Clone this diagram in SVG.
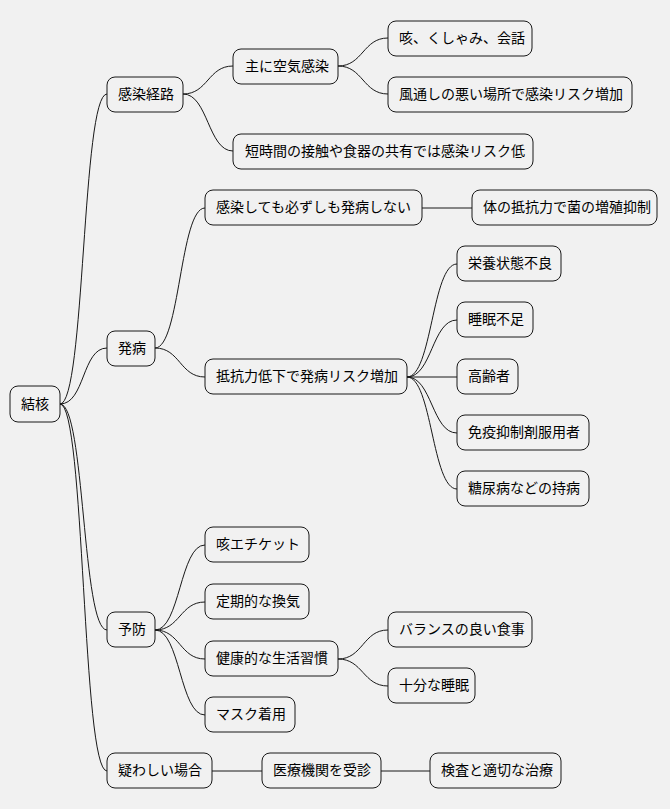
<svg xmlns="http://www.w3.org/2000/svg" width="670" height="809" viewBox="0 0 670 809">
<style>
rect{fill:#f1f1f1;stroke:#181818;stroke-width:1}
text{font-family:"Noto Sans CJK JP","Noto Sans",sans-serif;font-size:14px;fill:#000}
#connectors path{fill:none;stroke:#181818;stroke-width:1}
</style>
<rect width="670" height="809" fill="#fff" style="stroke:none"/>
<g id="connectors">
<path d="M60 404 C85 404 82 94 107 94"/>
<path d="M60 404 C85 404 82 348 107 348"/>
<path d="M60 404 C85 404 82 630 107 630"/>
<path d="M60 404 C85 404 82 771 107 771"/>
<path d="M183 94 C208 94 208 66 233 66"/>
<path d="M183 94 C208 94 208 151 233 151"/>
<path d="M338 66 C363 66 363 38 388 38"/>
<path d="M338 66 C363 66 363 94 388 94"/>
<path d="M155 348 C180 348 180 208 205 208"/>
<path d="M155 348 C180 348 180 377 205 377"/>
<path d="M422 208 L472 208"/>
<path d="M407 377 C432 377 432 264 457 264"/>
<path d="M407 377 C432 377 432 320 457 320"/>
<path d="M407 377 L457 377"/>
<path d="M407 377 C432 377 432 433 457 433"/>
<path d="M407 377 C432 377 432 489 457 489"/>
<path d="M155 630 C180 630 180 545 205 545"/>
<path d="M155 630 C180 630 180 602 205 602"/>
<path d="M155 630 C180 630 180 659 205 659"/>
<path d="M155 630 C180 630 180 715 205 715"/>
<path d="M338 659 C363 659 363 630 388 630"/>
<path d="M338 659 C363 659 363 686 388 686"/>
<path d="M212 771 L262 771"/>
<path d="M381 771 L430 771"/>
</g>
<g id="n0"><rect x="10" y="386" width="50" height="36" rx="8"/><text x="21" y="409">結核</text></g>
<g id="n1"><rect x="107" y="77" width="76" height="35" rx="8"/><text x="118" y="99">感染経路</text></g>
<g id="n2"><rect x="233" y="49" width="105" height="35" rx="8"/><text x="245" y="71">主に空気感染</text></g>
<g id="n3"><rect x="388" y="21" width="144" height="35" rx="8"/><text x="399" y="43">咳、くしゃみ、会話</text></g>
<g id="n4"><rect x="388" y="77" width="244" height="35" rx="8"/><text x="399" y="99">風通しの悪い場所で感染リスク増加</text></g>
<g id="n5"><rect x="233" y="134" width="300" height="35" rx="8"/><text x="245" y="156">短時間の接触や食器の共有では感染リスク低</text></g>
<g id="n6"><rect x="107" y="331" width="48" height="35" rx="8"/><text x="118" y="353">発病</text></g>
<g id="n7"><rect x="205" y="190" width="217" height="35" rx="8"/><text x="216" y="212">感染しても必ずしも発病しない</text></g>
<g id="n8"><rect x="472" y="190" width="185" height="35" rx="8"/><text x="483" y="212">体の抵抗力で菌の増殖抑制</text></g>
<g id="n9"><rect x="205" y="359" width="202" height="35" rx="8"/><text x="216" y="381">抵抗力低下で発病リスク増加</text></g>
<g id="n10"><rect x="457" y="246" width="104" height="35" rx="8"/><text x="468" y="268">栄養状態不良</text></g>
<g id="n11"><rect x="457" y="302" width="76" height="35" rx="8"/><text x="468" y="324">睡眠不足</text></g>
<g id="n12"><rect x="457" y="359" width="61" height="35" rx="8"/><text x="468" y="381">高齢者</text></g>
<g id="n13"><rect x="457" y="415" width="132" height="35" rx="8"/><text x="468" y="437">免疫抑制剤服用者</text></g>
<g id="n14"><rect x="457" y="471" width="132" height="35" rx="8"/><text x="468" y="493">糖尿病などの持病</text></g>
<g id="n15"><rect x="107" y="612" width="48" height="35" rx="8"/><text x="118" y="634">予防</text></g>
<g id="n16"><rect x="205" y="527" width="104" height="35" rx="8"/><text x="216" y="549">咳エチケット</text></g>
<g id="n17"><rect x="205" y="584" width="104" height="35" rx="8"/><text x="216" y="606">定期的な換気</text></g>
<g id="n18"><rect x="205" y="641" width="133" height="35" rx="8"/><text x="216" y="663">健康的な生活習慣</text></g>
<g id="n19"><rect x="205" y="697" width="90" height="35" rx="8"/><text x="216" y="719">マスク着用</text></g>
<g id="n20"><rect x="388" y="612" width="144" height="35" rx="8"/><text x="399" y="634">バランスの良い食事</text></g>
<g id="n21"><rect x="388" y="668" width="87" height="35" rx="8"/><text x="399" y="690">十分な睡眠</text></g>
<g id="n22"><rect x="107" y="753" width="105" height="35" rx="8"/><text x="118" y="775">疑わしい場合</text></g>
<g id="n23"><rect x="262" y="753" width="119" height="35" rx="8"/><text x="273" y="775">医療機関を受診</text></g>
<g id="n24"><rect x="430" y="753" width="131" height="35" rx="8"/><text x="441" y="775">検査と適切な治療</text></g>
</svg>
